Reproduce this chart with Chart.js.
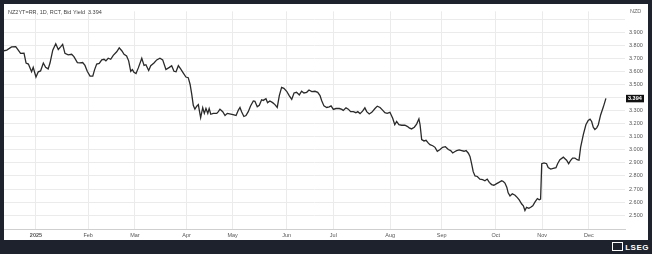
<!DOCTYPE html>
<html>
<head>
<meta charset="utf-8">
<script src="https://cdn.jsdelivr.net/npm/chart.js@4/dist/chart.umd.min.js"></script>
<style>
  body { margin: 0; width: 652px; height: 254px; overflow: hidden; background: #1d222c; }
  #panel { position: absolute; left: 4px; top: 4px; width: 644px; height: 236px; background: #fff; }
  #logo { position: absolute; right: 3px; top: 242px; color: #fff; font: bold 8px "Liberation Sans", Arial, sans-serif; letter-spacing: 0.5px; }
  #logo span { display: inline-block; width: 9px; height: 7px; border: 1px solid #fff; margin-right: 2px; vertical-align: -1px; }
</style>
</head>
<body>
<div id="panel"><canvas id="myChart" width="644" height="236"></canvas></div>
<div id="logo"><span></span>LSEG</div>
<script>
(() => {
  //! DATA

  // trading session index (0 = first session of 2025)
  const sessions = [
    -13.9, -12.7, -10.6, -8.8, -7.7, -6.7, -5.2, -4.3, -3.3, -1.9, -1.2, 0, 1.0, 2.0, 3.2, 4.2, 5.3, 6.1, 7.3, 8.6,
    9.7, 10.7, 11.6, 12.6, 14.0, 15.5, 16.5, 18.0, 19.1, 20.3, 21.3, 22.3, 23.5, 24.7, 25.5, 26.4, 27.5, 28.6, 29.6, 30.4,
    31.4, 32.5, 33.6, 35.1, 36.2, 37.3, 38.3, 39.4, 40.3, 41.2, 41.9, 42.6, 43.5, 44.5, 46.0, 47.0, 47.8, 49.0, 49.9, 51.3,
    52.5, 53.9, 55.1, 56.5, 58.0, 59.0, 60.0, 60.9, 61.9, 62.9, 64.0, 65.2, 66.2, 67.0, 67.7, 68.4, 69.1, 69.9, 70.6, 71.0,
    71.6, 72.5, 73.2, 73.9, 74.7, 75.3, 76.0, 77.1, 78.6, 79.3, 80.0, 81.2, 82.2, 83.2, 84.7, 86.1, 87.0, 88.0, 88.7, 89.4,
    90.4, 91.3, 92.3, 93.3, 94.5, 95.2, 96.2, 97.1, 98.1, 98.8, 100.0, 100.7, 101.7, 102.9, 103.9, 104.9, 105.8, 106.8, 107.8, 109.0,
    110.1, 111.2, 112.2, 113.3, 114.5, 115.5, 116.5, 117.7, 118.7, 119.9, 121.3, 122.5, 123.5, 124.2, 125.2, 126.4, 127.5, 128.3, 129.3, 130.4,
    131.9, 133.0, 133.6, 134.8, 135.8, 136.8, 138.0, 139.1, 139.9, 140.9, 142.0, 143.0, 143.8, 144.9, 146.0, 147.4, 148.4, 149.6, 150.7, 151.7,
    152.7, 153.9, 155.1, 156.0, 156.8, 157.8, 159.0, 160.4, 161.4, 162.3, 163.3, 164.5, 165.5, 166.5, 167.0, 167.7, 168.7, 169.6, 170.6, 171.3,
    172.5, 173.5, 174.5, 175.7, 176.8, 178.0, 179.3, 180.3, 181.2, 182.2, 182.9, 184.0, 185.1, 186.1, 187.0, 188.0, 188.7, 189.4, 190.1, 190.9,
    191.9, 193.0, 194.2, 195.2, 196.2, 197.1, 198.1, 199.1, 200.3, 201.3, 202.5, 203.2, 203.9, 204.7, 205.3, 206.1, 207.1, 208.3, 209.3, 210.1,
    211.2, 211.9, 212.6, 213.3, 214.3, 215.1, 216.0, 217.0, 218.0, 218.8, 219.4, 219.9, 220.9, 222.0, 222.7, 223.8, 224.9, 226.1, 226.8, 227.8,
    229.3, 230.0, 230.7, 231.6, 232.5, 233.3, 234.3, 235.3, 236.1, 236.8, 238.0, 239.1, 240.1, 240.9, 241.6, 242.3, 243.0, 243.8, 244.5, 245.5,
    246.7, 247.8
  ];

  // NZ 2Y bid yield
  const yields = [
    3.758, 3.763, 3.788, 3.790, 3.763, 3.738, 3.740, 3.664, 3.656, 3.597, 3.631, 3.557, 3.597, 3.604, 3.664, 3.631, 3.619, 3.664, 3.763, 3.812,
    3.768, 3.788, 3.807, 3.738, 3.726, 3.731, 3.713, 3.668, 3.666, 3.668, 3.646, 3.601, 3.564, 3.564, 3.614, 3.656, 3.661, 3.688, 3.693, 3.681,
    3.701, 3.693, 3.723, 3.750, 3.780, 3.758, 3.731, 3.718, 3.681, 3.601, 3.614, 3.594, 3.584, 3.627, 3.701, 3.646, 3.651, 3.607, 3.644, 3.664,
    3.688, 3.701, 3.688, 3.614, 3.631, 3.644, 3.601, 3.597, 3.644, 3.619, 3.589, 3.557, 3.552, 3.502, 3.428, 3.341, 3.311, 3.334, 3.346, 3.304,
    3.247, 3.322, 3.279, 3.316, 3.279, 3.316, 3.272, 3.279, 3.279, 3.292, 3.311, 3.292, 3.262, 3.279, 3.274, 3.267, 3.262, 3.304, 3.324, 3.292,
    3.255, 3.262, 3.292, 3.336, 3.374, 3.371, 3.329, 3.341, 3.383, 3.378, 3.391, 3.361, 3.374, 3.361, 3.346, 3.324, 3.415, 3.478, 3.470, 3.448,
    3.415, 3.386, 3.435, 3.440, 3.420, 3.448, 3.435, 3.440, 3.458, 3.445, 3.448, 3.440, 3.415, 3.378, 3.336, 3.324, 3.329, 3.336, 3.309, 3.316,
    3.316, 3.309, 3.301, 3.321, 3.311, 3.292, 3.292, 3.284, 3.292, 3.277, 3.296, 3.321, 3.292, 3.274, 3.287, 3.316, 3.334, 3.324, 3.304, 3.284,
    3.279, 3.287, 3.242, 3.192, 3.217, 3.192, 3.188, 3.188, 3.180, 3.168, 3.160, 3.173, 3.197, 3.237, 3.192, 3.078, 3.068, 3.073, 3.051, 3.039,
    3.031, 3.019, 2.989, 3.002, 3.019, 3.024, 3.002, 2.994, 2.976, 2.987, 2.994, 2.999, 2.994, 2.989, 2.994, 2.974, 2.949, 2.894, 2.833, 2.800,
    2.796, 2.776, 2.771, 2.763, 2.776, 2.751, 2.734, 2.729, 2.741, 2.751, 2.763, 2.758, 2.746, 2.714, 2.671, 2.647, 2.664, 2.652, 2.634, 2.617,
    2.585, 2.572, 2.535, 2.560, 2.552, 2.560, 2.572, 2.602, 2.627, 2.617, 2.622, 2.894, 2.900, 2.894, 2.865, 2.853, 2.858, 2.863, 2.894, 2.924,
    2.944, 2.932, 2.920, 2.894, 2.920, 2.937, 2.937, 2.924, 2.920, 3.019, 3.118, 3.192, 3.225, 3.235, 3.217, 3.173, 3.155, 3.168, 3.192, 3.267,
    3.329, 3.394
  ];

  // x axis: month starts (session index) and their labels
  const monthPos = [0, 22.7, 43.0, 65.5, 85.5, 109.0, 129.3, 154.0, 176.4, 199.9, 220.1, 240.4];
  const monthLabels = ["2025", "Feb", "Mar", "Apr", "May", "Jun", "Jul", "Aug", "Sep", "Oct", "Nov", "Dec"];

  // y axis ticks
  const yTicks = [2.5, 2.6, 2.7, 2.8, 2.9, 3.0, 3.1, 3.2, 3.3, 3.4, 3.5, 3.6, 3.7, 3.8, 3.9, 4.0];

  const titleText = "NZ2YT=RR, 1D, RCT, Bid Yield  3.394";
  const currency = "NZD";
  const lastValue = yields[yields.length - 1];

  const FONT = "'Liberation Sans', Arial, sans-serif";

  //! PLUGINS

  // title, currency tag and last value marker
  const overlay = {
    id: "overlay",
    afterDraw(chart) {
      const { ctx, chartArea, scales } = chart;
      ctx.save();
      ctx.font = "5.5px " + FONT;
      ctx.fillStyle = "#444";
      ctx.textBaseline = "middle";
      ctx.fillText(titleText, 4, 8);

      ctx.fillStyle = "#666";
      ctx.font = "5.5px " + FONT;
      ctx.fillText(currency, chartArea.right + 5, 7.5);

      const y = scales.y.getPixelForValue(lastValue);
      ctx.fillStyle = "#111";
      ctx.fillRect(chartArea.right + 1, y - 3.5, 18, 7.5);
      ctx.fillStyle = "#fff";
      ctx.font = "bold 5.5px " + FONT;
      ctx.fillText(lastValue.toFixed(3), chartArea.right + 3, y + 0.3);
      ctx.restore();
    }
  };

  //! CHART

  const ctx = document.getElementById("myChart");

  new Chart(ctx, {
    type: "line",
    data: {
      datasets: [
        {
          data: sessions.map((s, i) => ({ x: s, y: yields[i] })),
          borderColor: "#2a2a2a",
          borderWidth: 1.3,
          pointRadius: 0,
          tension: 0,
          fill: false
        }
      ]
    },
    options: {
      responsive: false,
      animation: false,
      devicePixelRatio: 1,
      layout: { padding: { top: 1, left: 0, right: 0, bottom: 0 } },
      plugins: {
        legend: { display: false },
        tooltip: { enabled: false }
      },
      scales: {
        x: {
          type: "linear",
          min: -13.9,
          max: 256.1,
          afterBuildTicks: scale => {
            scale.ticks = monthPos.map(v => ({ value: v }));
          },
          afterFit: scale => {
            scale.height = 11;
          },
          grid: { color: "#ebebeb", lineWidth: 1, drawTicks: false },
          border: { display: true, color: "#cfcfcf" },
          ticks: {
            padding: 3,
            maxRotation: 0,
            autoSkip: false,
            color: "#555",
            font: c => ({ family: FONT, size: 5.5, weight: c.index === 0 ? "bold" : "normal" }),
            callback: (v, i) => monthLabels[i]
          }
        },
        y: {
          position: "right",
          min: 2.394,
          max: 4.06,
          afterBuildTicks: scale => {
            scale.ticks = yTicks.map(v => ({ value: v }));
          },
          afterFit: scale => {
            scale.width = 23;
          },
          grid: { color: "#ebebeb", lineWidth: 1, drawTicks: false },
          border: { display: false },
          ticks: {
            padding: 4,
            color: "#555",
            font: { family: FONT, size: 5.5 },
            callback: v => (v >= 3.95 ? "" : Number(v).toFixed(3))
          }
        }
      }
    },
    plugins: [overlay]
  });
})();
</script>
</body>
</html>
